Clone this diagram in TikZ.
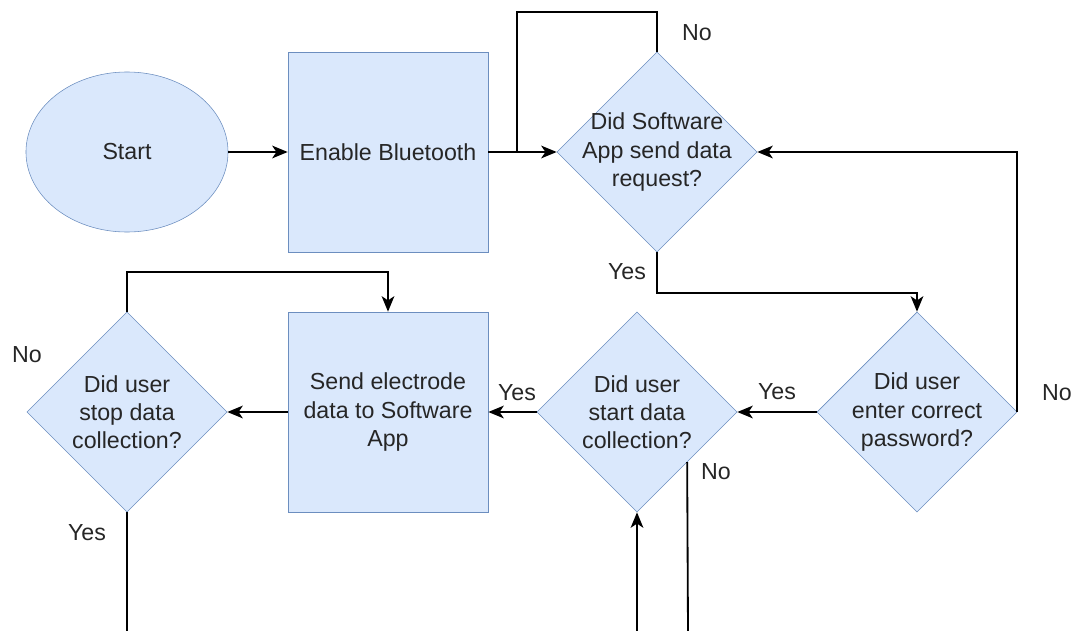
\documentclass[tikz,border=0pt]{standalone}
\usepackage{fontspec}
\setmainfont{Liberation Sans}
\usetikzlibrary{shapes.geometric,arrows.meta}

\begin{document}
\begin{tikzpicture}[x=0.025cm, y=-0.025cm, font=\fontsize{16.5}{20}\selectfont]

	% Styles
	\tikzset{
		box/.style={
			rectangle, draw=myblueline, fill=mybluebg,
			minimum width=5cm, minimum height=5cm,
			text centered, align=center, inner sep=2pt,
			text=black!85,
		},
		startbox/.style={
			ellipse, draw=myblueline, fill=mybluebg,
			minimum width=5.05cm, minimum height=4cm,
			text=black!85,
		},
		decision/.style={
			diamond, draw=myblueline, fill=mybluebg,
			minimum width=5cm, minimum height=5cm, inner sep=0pt,
			label={[align=center, text=black!85]center:#1},
		},
		arrow/.style={
			line width=1.3pt, -{Stealth[length=11pt, width=9pt, inset=3pt]},
		},
		line/.style={
			line width=1.3pt,
		},
		answer/.style={
			text=black!85,
		}
	}

	% Colors
	\definecolor{mybluebg}{RGB}{218,232,252}
	\definecolor{myblueline}{RGB}{108,142,191}

	% Page frame
	\useasboundingbox (0,0) rectangle (1073,631);

	% Top row
	\node[startbox] (start) at (127,152) {Start};
	\node[box] (enable) at (388,152) {Enable Bluetooth};
	\node[decision={Did Software\\App send data\\request?}] (request) at (657,152) {};

	% Bottom row, right to left
	\node[decision={Did user\\enter correct\\password?}] (password) at (917,412) {};
	\node[decision={Did user\\start data\\collection?}] (collect) at (637,412) {};
	\node[box] (send) at (388,412) {Send electrode\\data to Software\\App};
	\node[decision={Did user\\stop data\\collection?}] (stop) at (127,412) {};

	% Loose ends at the bottom edge
	\coordinate (join) at (517,152);
	\coordinate (stopend) at (127,631);
	\coordinate (collectin) at (637,631);
	\coordinate (collectend) at (688,631);

	% Arrows along the top row
	\draw[arrow] (start.east) -- (enable.west);
	\draw[arrow] (enable.east) -- (request.west);
	\draw[line] (request.north) -- ++(0,-40) -| (join);
	\draw[arrow] (request.south) -- ++(0,41) -| (password.north);

	% Arrows along the bottom row
	\draw[arrow] (password.east) |- (request.east);
	\draw[arrow] (password.west) -- (collect.east);
	\draw[arrow] (collect.west) -- (send.east);
	\draw[arrow] (send.west) -- (stop.east);
	\draw[arrow] (stop.north) -- ++(0,-40) -| (send.north);
	\draw[line] (stop.south) -- (stopend);
	\draw[arrow] (collectin) -- (collect.south);
	\draw[line] (collect.south east) -- (collectend);

	% Answers
	\node[answer] (noreq) at (697,33) {No};
	\node[answer] (yesreq) at (627,272) {Yes};
	\node[answer] (nopass) at (1057,393) {No};
	\node[answer] (yespass) at (777,392) {Yes};
	\node[answer] (yescol) at (517,393) {Yes};
	\node[answer] (nocol) at (716,472) {No};
	\node[answer] (nostop) at (27,355) {No};
	\node[answer] (yesstop) at (87,533) {Yes};

\end{tikzpicture}
\end{document}
